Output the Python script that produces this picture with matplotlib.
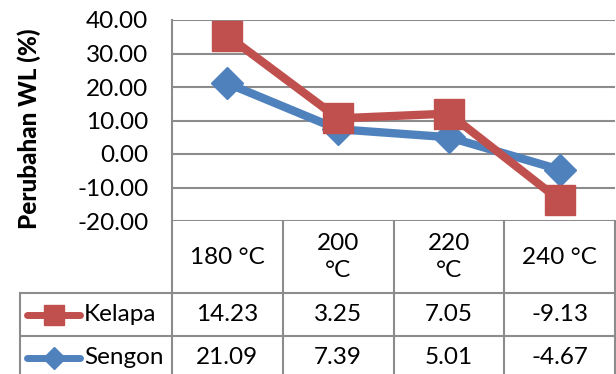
import matplotlib.pyplot as plt
import matplotlib.transforms as mtransforms
import numpy as np

# temperature treatments and weight-loss change per wood type
categories = ["180 °C", "200\n°C", "220\n°C", "240 °C"]
kelapa = [14.23, 3.25, 7.05, -9.13]
sengon = [21.09, 7.39, 5.01, -4.67]
y_ticks = [-20, -10, 0, 10, 20, 30, 40]

RED = "#C0504D"
BLUE = "#4F81BD"
GRID = "#8C8C8C"
W, H = 616, 374
FS = 17.5

plt.rcParams["font.family"] = ["Lato", "DejaVu Sans"]

fig = plt.figure(figsize=(W / 100, H / 100), dpi=100)

# pixel-space canvas for the data table underneath the plot
ax_t = fig.add_axes([0, 0, 1, 1], zorder=0)
ax_t.set_xlim(0, W)
ax_t.set_ylim(H, 0)
ax_t.axis("off")

left, right, top, bottom = 172, 615, 20, 221
ax = fig.add_axes([left / W, 1 - bottom / H, (right - left) / W, (bottom - top) / H], zorder=2)
ax.patch.set_alpha(0)

x = np.arange(len(categories))
# stacked line chart: Kelapa sits on top of Sengon
stacked = np.array(sengon) + np.array(kelapa)

ax.plot(x, sengon, color=BLUE, lw=6, marker="D", ms=16, mfc=BLUE, mec=BLUE,
        solid_capstyle="round", zorder=3)
ax.plot(x, stacked, color=RED, lw=6, marker="s", ms=21, mfc=RED, mec=RED,
        solid_capstyle="round", zorder=4)

ax.set_xlim(-0.5, len(categories) - 0.5)
ax.set_ylim(-20, 40)
ax.set_yticks(y_ticks)
ax.set_yticklabels([f"{v:.2f}" for v in y_ticks], fontsize=FS)
ax.tick_params(axis="y", length=0, pad=17)
ax.set_xticks([])
for yv in y_ticks:
    ax.axhline(yv, color=GRID, lw=1.5, zorder=1)
for s in ["top", "right", "bottom"]:
    ax.spines[s].set_visible(False)
ax.spines["left"].set_color(GRID)
ax.spines["left"].set_linewidth(1.5)

ax.set_ylabel("Perubahan WL (%)", fontsize=17.5, fontweight="black")
ax.yaxis.set_label_coords(-0.295, 0.46)

# data table, columns aligned with the category positions
trans = mtransforms.blended_transform_factory(ax.transData, ax_t.transData)
row_hdr, row1, row2, row_end = 221, 293, 336, 380
for i in range(len(categories) + 1):
    ax_t.plot([i - 0.5, i - 0.5], [row_hdr, row_end], color=GRID, lw=1.5,
              transform=trans, clip_on=False)
for yv in [row1, row2]:
    ax_t.plot([20, right], [yv, yv], color=GRID, lw=1.5)
ax_t.plot([20, 20], [row1, row_end], color=GRID, lw=1.5)

for i, c in enumerate(categories):
    ax_t.text(i, (row_hdr + row1) / 2, c, transform=trans, ha="center",
              va="center", fontsize=FS, linespacing=1.3)
for i in range(len(categories)):
    ax_t.text(i, (row1 + row2) / 2, f"{kelapa[i]:.2f}", transform=trans,
              ha="center", va="center", fontsize=FS)
    ax_t.text(i, (row2 + 374) / 2 + 3, f"{sengon[i]:.2f}", transform=trans,
              ha="center", va="center", fontsize=FS)

# legend keys inside the table
for name, color, mk, ms, yc in [("Kelapa", RED, "s", 15, (row1 + row2) / 2),
                                ("Sengon", BLUE, "D", 11, (row2 + 374) / 2 + 3)]:
    ax_t.plot([27, 80], [yc, yc], color=color, lw=5, solid_capstyle="round")
    ax_t.plot([53.5], [yc], marker=mk, ms=ms, color=color)
    ax_t.text(84, yc, name, ha="left", va="center", fontsize=FS)

fig.savefig("out.png", dpi=100)
